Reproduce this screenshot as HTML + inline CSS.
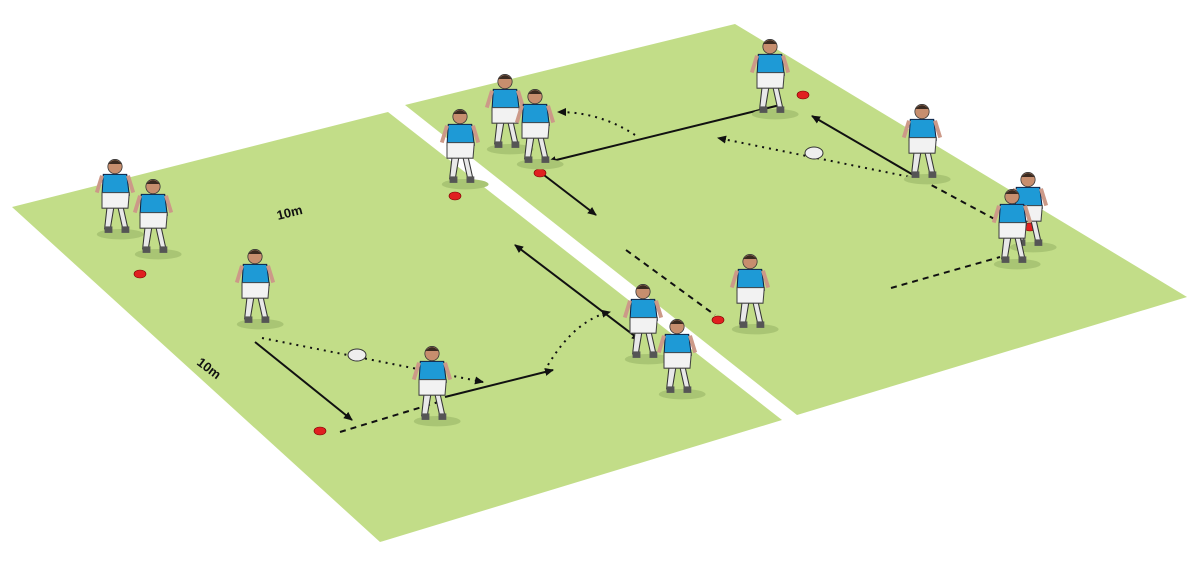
<!DOCTYPE html>
<html><head><meta charset="utf-8"><style>
html,body{margin:0;padding:0;background:#fff;width:1201px;height:568px;overflow:hidden}
svg{display:block}
</style></head><body>
<svg width="1201" height="568" viewBox="0 0 1201 568" xmlns="http://www.w3.org/2000/svg">
<defs>
<marker id="a" markerWidth="10" markerHeight="10" refX="8" refY="5" orient="auto" markerUnits="userSpaceOnUse"><path d="M0,1 L9,5 L0,9 z" fill="#111"/></marker>
<marker id="b" markerWidth="10" markerHeight="10" refX="2" refY="5" orient="auto" markerUnits="userSpaceOnUse"><path d="M10,1 L1,5 L10,9 z" fill="#111"/></marker>
<g id="p">
<ellipse cx="4" cy="44" rx="18" ry="4" fill="#a9c574"/>
<path d="M-6,22 L-8,40 L-4,42 L-1,24 Z M2,22 L6,40 L10,40 L6,22 Z" fill="#e8e8e8" stroke="#333" stroke-width="0.8"/>
<rect x="-8" y="38" width="6" height="5" fill="#555"/><rect x="5" y="38" width="6" height="5" fill="#555"/>
<path d="M-9,-2 L9,-2 L11,14 L-10,14 Z" fill="#1e9ad6" stroke="#124" stroke-width="0.8"/>
<path d="M-10,-1 L-14,12 M10,-1 L14,12" stroke="#c98" stroke-width="3"/>
<path d="M-10,12 L11,12 L10,24 L-10,24 Z" fill="#f2f2f2" stroke="#444" stroke-width="0.8"/>
<circle cx="0" cy="-8" r="5.5" fill="#c78e6e" stroke="#333" stroke-width="0.6"/>
<path d="M-5,-10 Q0,-16 5,-10 Z" fill="#3a2a20"/>
</g>
</defs>
<polygon points="12,207 388,112 782,420 380,542" fill="#c2dd88"/>
<polygon points="405,105 735,24 1187,297 797,415" fill="#c2dd88"/>
<text x="0" y="0" transform="translate(278,220) rotate(-14)" font-family="Liberation Sans,sans-serif" font-weight="bold" font-size="13" fill="#111">10m</text>
<text x="0" y="0" transform="translate(196,364) rotate(37)" font-family="Liberation Sans,sans-serif" font-weight="bold" font-size="13" fill="#111">10m</text>
<g stroke="#111" stroke-width="2" fill="none">
<line x1="255" y1="342" x2="352" y2="420" marker-end="url(#a)"/>
<line x1="445" y1="397" x2="553" y2="370" marker-end="url(#a)"/>
<line x1="515" y1="245" x2="640" y2="340" marker-start="url(#b)" marker-end="url(#a)"/>
<line x1="540" y1="172" x2="596" y2="215" marker-end="url(#a)"/>
<line x1="780" y1="105" x2="548" y2="162" marker-end="url(#a)"/>
<line x1="922" y1="180" x2="812" y2="116" marker-end="url(#a)"/>
</g>
<g stroke="#111" stroke-width="2" fill="none" stroke-dasharray="6,5">
<line x1="340" y1="432" x2="445" y2="400"/>
<line x1="626" y1="250" x2="715" y2="315"/>
<line x1="891" y1="288" x2="1000" y2="257"/>
<line x1="922" y1="180" x2="1000" y2="222"/>
</g>
<g stroke="#111" stroke-width="2" fill="none" stroke-dasharray="2,5">
<path d="M262,338 L483,382" marker-end="url(#a)"/>
<path d="M548,365 Q575,320 610,312" marker-end="url(#a)"/>
<path d="M635,135 Q600,112 558,112" marker-end="url(#a)"/>
<path d="M915,178 L718,138" marker-end="url(#a)"/>
</g>
<g fill="#e02020" stroke="#700" stroke-width="0.6">
<ellipse cx="140" cy="274" rx="6" ry="4"/><ellipse cx="320" cy="431" rx="6" ry="4"/>
<ellipse cx="455" cy="196" rx="6" ry="4"/><ellipse cx="540" cy="173" rx="6" ry="4"/>
<ellipse cx="803" cy="95" rx="6" ry="4"/><ellipse cx="718" cy="320" rx="6" ry="4"/>
<ellipse cx="1030" cy="227" rx="6" ry="4"/>
</g>
<g fill="#eee" stroke="#333" stroke-width="1">
<ellipse cx="357" cy="355" rx="9" ry="6"/><ellipse cx="814" cy="153" rx="9" ry="6"/>
</g>
<use href="#p" transform="translate(115,177) scale(1.3)"/><use href="#p" transform="translate(153,197) scale(1.3)"/>
<use href="#p" transform="translate(255,267) scale(1.3)"/><use href="#p" transform="translate(460,127) scale(1.3)"/>
<use href="#p" transform="translate(505,92) scale(1.3)"/><use href="#p" transform="translate(535,107) scale(1.3)"/>
<use href="#p" transform="translate(432,364) scale(1.3)"/><use href="#p" transform="translate(643,302) scale(1.3)"/>
<use href="#p" transform="translate(677,337) scale(1.3)"/><use href="#p" transform="translate(750,272) scale(1.3)"/>
<use href="#p" transform="translate(770,57) scale(1.3)"/><use href="#p" transform="translate(922,122) scale(1.3)"/>
<use href="#p" transform="translate(1028,190) scale(1.3)"/><use href="#p" transform="translate(1012,207) scale(1.3)"/>
</svg>
</body></html>
